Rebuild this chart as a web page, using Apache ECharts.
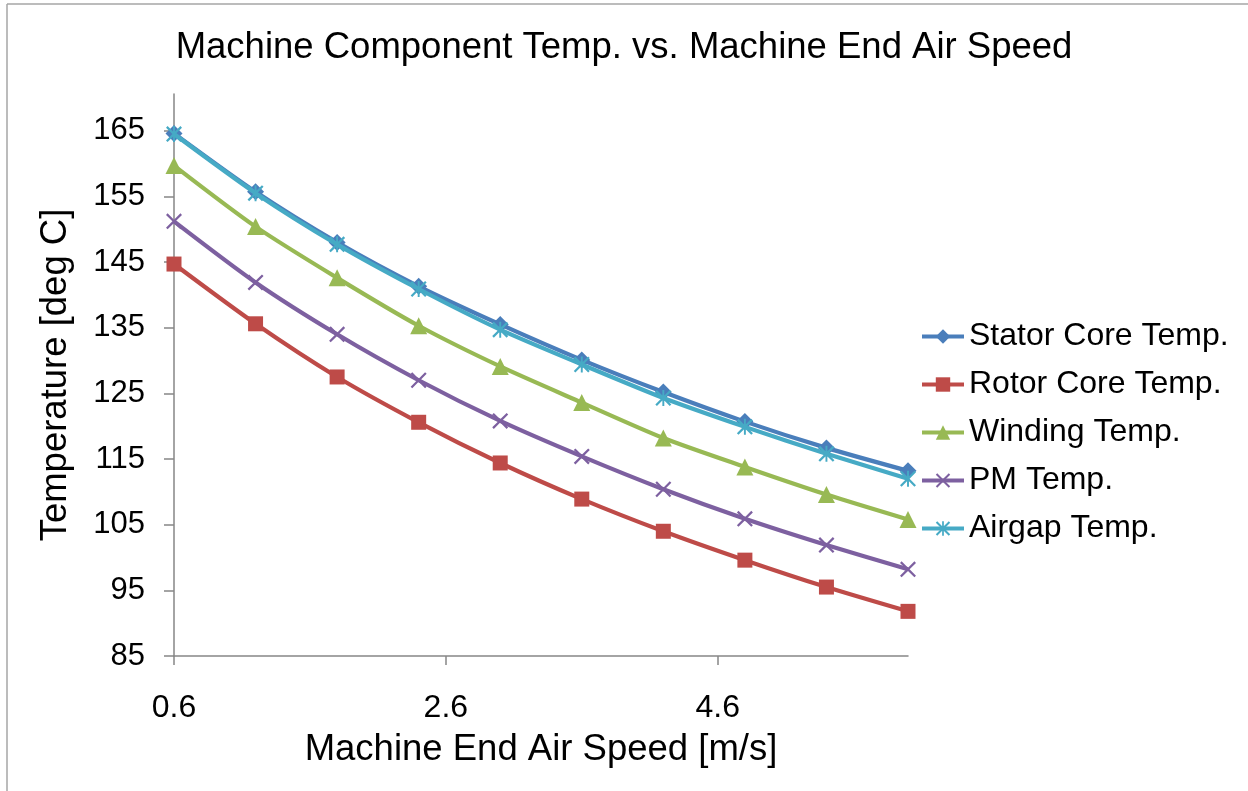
<!DOCTYPE html>
<html>
<head>
<meta charset="utf-8">
<script src="https://cdn.jsdelivr.net/npm/echarts@6/dist/echarts.min.js"></script>
<style>
html,body{margin:0;padding:0;background:#fff;}
#chart{width:1248px;height:791px;}
</style>
</head>
<body>
<div id="chart"></div>
<script>
// ---- data ----
const airSpeed = [0.6, 1.2, 1.8, 2.4, 3.0, 3.6, 4.2, 4.8, 5.4, 6.0];
const statorCore = [164.6, 155.7, 148.0, 141.3, 135.5, 130.1, 125.2, 120.7, 116.7, 113.2];
const rotorCore  = [144.7, 135.6, 127.5, 120.6, 114.4, 108.9, 104.0, 99.6, 95.5, 91.8];
const winding    = [159.7, 150.4, 142.6, 135.3, 129.1, 123.6, 118.2, 113.8, 109.6, 105.8];
const pmTemp     = [151.2, 141.9, 134.0, 127.0, 120.8, 115.4, 110.4, 105.9, 101.9, 98.2];
const airgap     = [164.5, 155.5, 147.7, 140.9, 134.7, 129.4, 124.3, 119.9, 115.8, 112.0];
const seriesNames = ['Stator Core Temp.', 'Rotor Core Temp.', 'Winding Temp.', 'PM Temp.', 'Airgap Temp.'];
const xTicks = [0.6, 2.6, 4.6];
const yTicks = [85, 95, 105, 115, 125, 135, 145, 155, 165];

// ---- styles ----
const colors = ['#4A7EBB', '#BE4B48', '#98B954', '#7D60A0', '#46AAC5'];
const xPath = 'path://M1,0 L5,4 L9,0 L10,1 L6,5 L10,9 L9,10 L5,6 L1,10 L0,9 L4,5 L0,1 Z';
const starPath = 'path://M1,0 L5,4 L9,0 L10,1 L6,5 L10,9 L9,10 L5,6 L1,10 L0,9 L4,5 L0,1 Z M4.4,0 L5.6,0 L5.6,10 L4.4,10 Z';
const symbols = ['diamond', 'rect', 'triangle', xPath, starPath];
const symbolSizes = [17, 15, 17, 16, 16];
const allValues = [statorCore, rotorCore, winding, pmTemp, airgap];

const FONT = '"Liberation Sans", Arial, sans-serif';
const chart = echarts.init(document.getElementById('chart'), null, {renderer: 'canvas'});

const series = seriesNames.map((name, i) => ({
  name: name,
  type: 'line',
  data: airSpeed.map((x, j) => [x, allValues[i][j]]),
  smooth: 0.25,
  symbol: symbols[i],
  symbolSize: symbolSizes[i],
  showAllSymbol: true,
  lineStyle: {width: 4.2, color: colors[i]},
  itemStyle: {color: colors[i]},
  emphasis: {disabled: true},
  z: 2 + i
}));

chart.setOption({
  animation: false,
  backgroundColor: '#ffffff',
  title: {
    text: 'Machine Component Temp. vs. Machine End Air Speed',
    left: 'center',
    top: 24,
    textStyle: {fontFamily: FONT, fontSize: 36.5, fontWeight: 'normal', color: '#000'}
  },
  grid: {left: 174, right: 340, top: 94, bottom: 135, containLabel: false},
  legend: {
    orient: 'vertical',
    left: 920,
    top: 320,
    padding: 0,
    itemWidth: 42,
    itemHeight: 18,
    itemGap: 15,
    data: seriesNames,
    lineStyle: {width: 4},
    textStyle: {fontFamily: FONT, fontSize: 32, color: '#000', lineHeight: 33}
  },
  xAxis: {
    type: 'value',
    min: 0.6,
    max: 6.0,
    name: 'Machine End Air Speed [m/s]',
    nameLocation: 'middle',
    nameGap: 75,
    nameTextStyle: {fontFamily: FONT, fontSize: 36.5, color: '#000'},
    axisLine: {show: true, onZero: false, lineStyle: {color: '#868686', width: 1.5}},
    axisTick: {show: true, length: 9, customValues: xTicks, lineStyle: {color: '#868686', width: 1.5}},
    axisLabel: {
      customValues: xTicks,
      margin: 36,
      fontFamily: FONT, fontSize: 32, color: '#000',
      formatter: v => Number(v).toFixed(1)
    },
    splitLine: {show: false}
  },
  yAxis: {
    type: 'value',
    min: 85,
    max: 170.6,
    name: 'Temperature [deg C]',
    nameLocation: 'middle',
    nameGap: 100,
    nameRotate: 90,
    nameTextStyle: {fontFamily: FONT, fontSize: 36.5, color: '#000'},
    axisLine: {show: true, lineStyle: {color: '#868686', width: 1.5}},
    axisTick: {show: true, length: 10, customValues: yTicks, lineStyle: {color: '#868686', width: 1.5}},
    axisLabel: {
      customValues: yTicks,
      margin: 29,
      fontFamily: FONT, fontSize: 31, color: '#000'
    },
    splitLine: {show: false}
  },
  graphic: [
    {type: 'line', shape: {x1: 7, y1: 4, x2: 1248, y2: 4}, style: {stroke: '#a6a6a6', lineWidth: 1.5}, silent: true},
    {type: 'line', shape: {x1: 7, y1: 4, x2: 7, y2: 791}, style: {stroke: '#a6a6a6', lineWidth: 1.5}, silent: true}
  ],
  series: series
});
</script>
</body>
</html>
